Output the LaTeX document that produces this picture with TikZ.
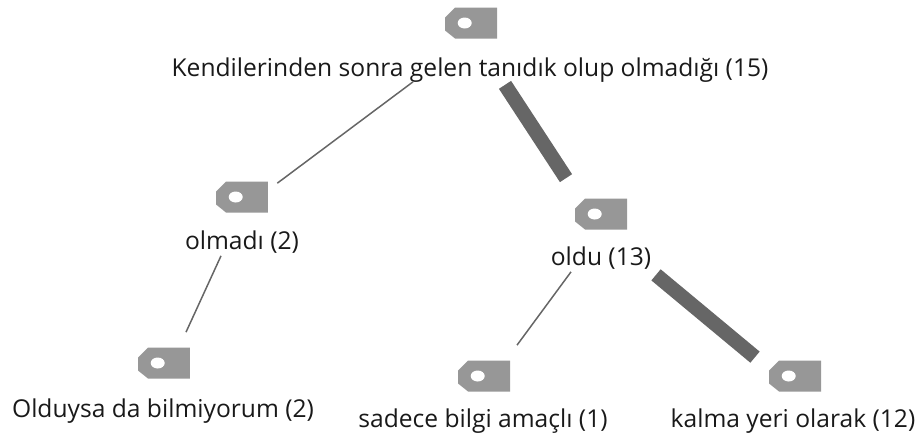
\documentclass[tikz,border=0pt]{standalone}
\usepackage{fontspec}
\setmainfont{Open Sans}
\usetikzlibrary{positioning,calc}
\definecolor{taggray}{HTML}{979797}
\definecolor{edgegray}{HTML}{666666}
\begin{document}
\begin{tikzpicture}[
        x=0.02cm, y=-0.02cm,
        tagbox/.style={rectangle, minimum width=1.04cm, minimum height=0.62cm, inner sep=0pt,
            path picture={
                \fill[taggray] (path picture bounding box.north east) -- (path picture bounding box.south east)
                    -- ([xshift=0.2cm]path picture bounding box.south west) -- ([yshift=0.16cm]path picture bounding box.south west)
                    -- ([yshift=-0.2cm]path picture bounding box.north west) -- ([xshift=0.2cm]path picture bounding box.north west) -- cycle;
                \fill[white] ([xshift=-0.126cm]path picture bounding box.center) ellipse (0.14cm and 0.11cm);
            }},
        lbl/.style={inner sep=0pt, text height=0.36cm, text depth=0.1cm, font=\fontsize{14pt}{16pt}\selectfont, text=black!90},
        thinedge/.style={draw=edgegray, line width=0.03cm},
        thickedge/.style={draw=edgegray, line width=0.29cm}
    ]
        \useasboundingbox (0,0) rectangle (922,437);

        \node[tagbox] (root) at (471,23) {};
        \node[lbl] (root_label) at (470,70) {Kendilerinden sonra gelen tanıdık olup olmadığı (15)};

        \node[tagbox] (olmadi) at (242,197) {};
        \node[lbl] (olmadi_label) at (242,243) {olmadı (2)};

        \node[tagbox] (oldu) at (601,214) {};
        \node[lbl] (oldu_label) at (601,259) {oldu (13)};

        \node[tagbox] (olduysa) at (164,363) {};
        \node[lbl] (olduysa_label) at (163,411) {Olduysa da bilmiyorum (2)};

        \node[tagbox] (sadece) at (484,376) {};
        \node[lbl] (sadece_label) at (483,421) {sadece bilgi amaçlı (1)};

        \node[tagbox] (kalma) at (795,376) {};
        \node[lbl] (kalma_label) at (793,421) {kalma yeri olarak (12)};

        \draw[thinedge] ([shift={(-57,0)}]root_label.south) -- ([shift={(9,2)}]olmadi.north east);
        \draw[thickedge] ([shift={(35,3)}]root_label.south) -- ([shift={(-35,-20)}]oldu.north);
        \draw[thinedge] ([shift={(-21,1)}]olmadi_label.south) -- ([shift={(22,-15)}]olduysa.north);
        \draw[thinedge] ([shift={(-30,1)}]oldu_label.south) -- ([shift={(33,-15)}]sadece.north);
        \draw[thickedge] ([shift={(55,4)}]oldu_label.south) -- ([shift={(-40,-3)}]kalma.north);
    \end{tikzpicture}
\end{document}
